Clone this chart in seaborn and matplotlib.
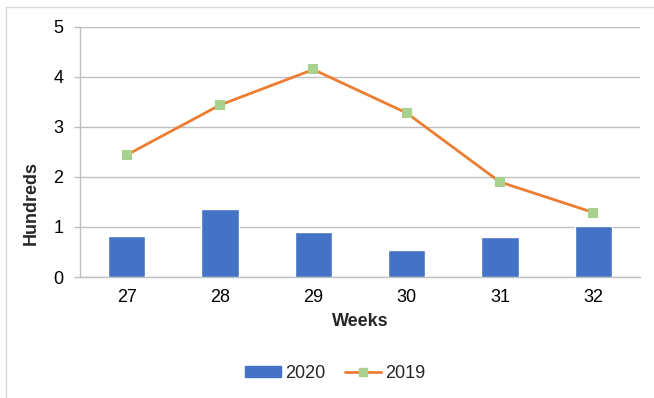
import matplotlib
matplotlib.use("Agg")
import matplotlib.pyplot as plt
import seaborn as sns
import pandas as pd
from matplotlib.patches import Patch
from matplotlib.lines import Line2D

weeks = ["27", "28", "29", "30", "31", "32"]
values_2020 = [0.83, 1.36, 0.90, 0.54, 0.81, 1.03]
values_2019 = [2.44, 3.44, 4.15, 3.28, 1.90, 1.29]
y_ticks = [0, 1, 2, 3, 4, 5]

BLUE = "#4472C4"
ORANGE = "#ED7D31"
GREEN = "#A9D18E"
GRID = "#BFBFBF"
FS = 13

df = pd.DataFrame({"week": weeks, "v2020": values_2020, "v2019": values_2019})

sns.set_theme(style="white")
plt.rcParams["font.family"] = ["Liberation Sans", "DejaVu Sans"]

fig = plt.figure(figsize=(6.54, 3.98), dpi=100)
ax = fig.add_axes([80 / 654, 1 - 277 / 398, 560 / 654, 250 / 398])

sns.barplot(data=df, x="week", y="v2020", order=weeks, color=BLUE,
            width=0.4, saturation=1, ax=ax, zorder=3)
sns.pointplot(data=df, x="week", y="v2019", order=weeks, color=ORANGE,
              markers="s", markersize=6, linewidth=2, ax=ax,
              markerfacecolor=GREEN, markeredgecolor=GREEN, zorder=4)

ax.set_ylim(0, 5)
ax.set_xlim(-0.5, 5.5)
ax.set_yticks(y_ticks)
ax.set_yticklabels([str(t) for t in y_ticks])
ax.yaxis.grid(True, color=GRID, linewidth=1)
ax.set_axisbelow(True)

# x ticks at category boundaries
ax.set_xticks(range(len(weeks)))
ax.set_xticklabels(weeks)
ax.set_xticks([i - 0.5 for i in range(len(weeks) + 1)], minor=True)
ax.tick_params(axis="x", which="major", length=0, pad=8.5, labelsize=FS, colors="black")
ax.tick_params(axis="x", which="minor", length=4, width=1, color=GRID, direction="out")
ax.tick_params(axis="y", which="major", length=4, width=1, color=GRID, pad=8,
               labelsize=FS, labelcolor="black", left=True, direction="out")

for side in ["top", "right"]:
    ax.spines[side].set_visible(False)
for side in ["left", "bottom"]:
    ax.spines[side].set_color(GRID)
    ax.spines[side].set_linewidth(1)

ax.set_xlabel("Weeks", fontsize=FS, fontweight="bold")
ax.set_ylabel("Hundreds", fontsize=FS, fontweight="bold")
ax.xaxis.set_label_coords(0.5, -0.145)
ax.yaxis.set_label_coords(-0.072, 0.295)

handles = [
    Patch(facecolor=BLUE, edgecolor=BLUE),
    Line2D([0], [0], color=ORANGE, linewidth=2, marker="s", markersize=6,
           markerfacecolor=GREEN, markeredgecolor=GREEN),
]
fig.legend(handles, ["2020", "2019"], loc="center", bbox_to_anchor=(335 / 654, 1 - 373 / 398),
           ncol=2, frameon=False, fontsize=FS, handlelength=2.0, handleheight=0.55,
           columnspacing=1.1, handletextpad=0.2)

# outer chart border (left and top visible)
fig.add_artist(Line2D([6 / 654, 6 / 654], [0, 1 - 7 / 398], transform=fig.transFigure,
                      color="#D9D9D9", linewidth=1))
fig.add_artist(Line2D([6 / 654, 1], [1 - 7 / 398, 1 - 7 / 398], transform=fig.transFigure,
                      color="#D9D9D9", linewidth=1))

fig.savefig("out.png", dpi=100, facecolor="white")
